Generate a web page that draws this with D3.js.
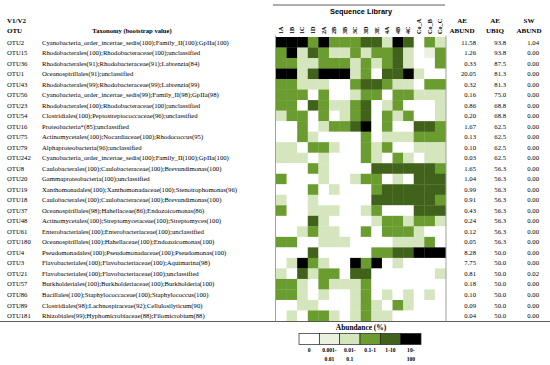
<!doctype html>
<html>
<head>
<meta charset="utf-8">
<title>OTU abundance heatmap</title>
<script src="https://d3js.org/d3.v7.min.js"></script>
<style>
  body { margin: 0; background: #fff; }
  text { font-family: "Liberation Serif", "Times New Roman", serif; fill: #000; }
  .hdr { font-weight: bold; font-size: 7px; }
  .row { font-size: 6.7px; }
  .sans { font-family: "Liberation Sans", Arial, sans-serif; }
</style>
</head>
<body>
<script>
// sample libraries (columns)
const samples = ["1A","1B","1C","1D","2A","2B","3B","3C","3D","3E","4A","4B","4C","Co_A","Co_B","Co_C"];

const otus = ["OTU2","OTU15","OTU36","OTU1","OTU43","OTU56","OTU23","OTU54","OTU16","OTU75","OTU79","OTU242",
  "OTU8","OTU20","OTU19","OTU18","OTU37","OTU48","OTU61","OTU180","OTU4","OTU3","OTU21","OTU57","OTU86","OTU89","OTU181"];

const taxonomy = [
  "Cyanobacteria_order_incertae_sedis(100);Family_II(100);GpIIa(100)",
  "Rhodobacterales(100);Rhodobacteraceae(100);unclassified",
  "Rhodobacterales(91);Rhodobacteraceae(91);Labrenzia(84)",
  "Oceanospirillales(91);unclassified",
  "Rhodobacterales(99);Rhodobacteraceae(99);Labrenzia(99)",
  "Cyanobacteria_order_incertae_sedis(99);Family_II(98);GpIIa(98)",
  "Rhodobacterales(100);Rhodobacteraceae(100);unclassified",
  "Clostridiales(100);Peptostreptococcaceae(96);unclassified",
  "Proteobacteria*(85);unclassified",
  "Actinomycetales(100);Nocardiaceae(100);Rhodococcus(95)",
  "Alphaproteobacteria(96);unclassified",
  "Cyanobacteria_order_incertae_sedis(100);Family_II(100);GpIIa(100)",
  "Caulobacterales(100);Caulobacteraceae(100);Brevundimonas(100)",
  "Gammaproteobacteria(100);unclassified",
  "Xanthomonadales(100);Xanthomonadaceae(100);Stenotrophomonas(96)",
  "Caulobacterales(100);Caulobacteraceae(100);Brevundimonas(100)",
  "Oceanospirillales(98);Hahellaceae(86);Endozoicomonas(86)",
  "Actinomycetales(100);Streptomycetaceae(100);Streptomyces(100)",
  "Enterobacteriales(100);Enterobacteriaceae(100);unclassified",
  "Oceanospirillales(100);Hahellaceae(100);Endozoicomonas(100)",
  "Pseudomonadales(100);Pseudomonadaceae(100);Pseudomonas(100)",
  "Flavobacteriales(100);Flavobacteriaceae(100);Aquimarina(98)",
  "Flavobacteriales(100);Flavobacteriaceae(100);unclassified",
  "Burkholderiales(100);Burkholderiaceae(100);Burkholderia(100)",
  "Bacillales(100);Staphylococcaceae(100);Staphylococcus(100)",
  "Clostridiales(98);Lachnospiraceae(92);Cellulosilyticum(90)",
  "Rhizobiales(99);Hyphomicrobiaceae(88);Filomicrobium(88)"
];

const aeAbund = ["11.58","1.26","0.33","20.05","0.32","0.16","0.86","0.20","1.67","0.13","0.10","0.03",
  "1.65","1.04","0.99","0.91","0.43","0.24","0.12","0.05","8.28","7.75","0.81","0.18","0.10","0.09","0.04"];
const aeUbiq = ["93.8","93.8","87.5","81.3","81.3","75.0","68.8","68.8","62.5","62.5","62.5","62.5",
  "56.3","56.3","56.3","56.3","56.3","56.3","56.3","56.3","50.0","50.0","50.0","50.0","50.0","50.0","50.0"];
const swAbund = ["1.04","0.00","0.00","0.00","0.00","0.00","0.00","0.00","0.00","0.00","0.00","0.00",
  "0.00","0.00","0.00","0.00","0.00","0.00","0.00","0.00","0.00","0.00","0.02","0.00","0.00","0.00","0.00"];

// abundance class per cell (0 = 0, 1 = 0.001-0.01, 2 = 0.01-0.1, 3 = 0.1-1, 4 = 1-10, 5 = 10-100)
const levels = [
  "5553533344254032",
  "3524322323342013",
  "3322333232342003",
  "5524555230445200",
  "3322200344322033",
  "3330300233033222",
  "3304322340230002",
  "2330302340323002",
  "0030233450300443",
  "0032000030222333",
  "2203320032300222",
  "2220200032032022",
  "0003200004444443",
  "3000200233020444",
  "0003020003444444",
  "2002000004444443",
  "3002220023000444",
  "0004200002332332",
  "0023220030333200",
  "3300222000022230",
  "0004000003344555",
  "0253200535020000",
  "2042330440000002",
  "3320322230000000",
  "3320200230202020",
  "0022000232032000",
  "0203320232200000"
];

const legendLabels = [["0"], ["0.001-","0.01"], ["0.01-","0.1"], ["0.1-1"], ["1-10"], ["10-","100"]];
const palette = ["#ffffff", "#eaf2df", "#d5e5bd", "#6b9c30", "#41621a", "#000000"];

const W = 550, H = 365;
const svg = d3.select("body").append("svg").attr("width", W).attr("height", H);

const x = d3.scaleBand().domain(samples).range([276, 445.5]);
const y = d3.scaleBand().domain(otus).range([37, 321]);
const color = d3.scaleOrdinal().domain(d3.range(6)).range(palette);

// cells
const cells = [];
otus.forEach((o, i) => {
  samples.forEach((s, j) => cells.push({ otu: o, sample: s, v: +levels[i][j] }));
});
svg.append("g").selectAll("rect")
  .data(cells)
  .enter()
  .append("rect")
  .attr("x", d => x(d.sample))
  .attr("y", d => y(d.otu))
  .attr("width", x.bandwidth() + 0.3)
  .attr("height", y.bandwidth() + 0.3)
  .attr("fill", d => color(d.v));

// rules
const rule = (x1, y1, x2, y2, c) => svg.append("line")
  .attr("x1", x1).attr("y1", y1).attr("x2", x2).attr("y2", y2)
  .attr("stroke", c || "#333").attr("stroke-width", 0.8);
rule(273, 5, 445, 5);
rule(0, 321.5, 550, 321.5);
rule(275.5, 35.5, 275.5, 321.5, "#888");
rule(446, 35.5, 446, 321.5, "#888");

// header
svg.append("text").attr("class", "hdr sans").attr("x", 361).attr("y", 14)
  .attr("text-anchor", "middle").style("font-size", "7.4px").text("Sequence Library");
svg.append("text").attr("class", "hdr").attr("x", 7).attr("y", 23).text("V1/V2");
svg.append("text").attr("class", "hdr").attr("x", 7).attr("y", 33).text("OTU");
svg.append("text").attr("class", "hdr").attr("x", 132).attr("y", 33)
  .attr("text-anchor", "middle").style("font-size", "6.6px").text("Taxonomy (bootstrap value)");

svg.append("g").selectAll("text")
  .data(samples)
  .enter()
  .append("text")
  .attr("class", "hdr")
  .style("font-size", "6.2px")
  .attr("transform", d => "translate(" + (x(d) + x.bandwidth() / 2 + 2) + ",34) rotate(-90)")
  .text(d => d);

const colHdr = [[462, "AE", "ABUND"], [495, "AE", "UBIQ"], [529, "SW", "ABUND"]];
colHdr.forEach(h => {
  svg.append("text").attr("class", "hdr").attr("x", h[0]).attr("y", 23).attr("text-anchor", "middle").text(h[1]);
  svg.append("text").attr("class", "hdr").attr("x", h[0]).attr("y", 33).attr("text-anchor", "middle").text(h[2]);
});

// rows of text
const rowY = d => y(d) + y.bandwidth() / 2 + 2.3;
const addCol = (vals, xp, anchor) => svg.append("g").selectAll("text")
  .data(otus)
  .enter()
  .append("text")
  .attr("class", "row")
  .attr("x", xp)
  .attr("y", d => rowY(d))
  .attr("text-anchor", anchor)
  .text((d, i) => vals[i]);
addCol(otus, 7, "start");
addCol(taxonomy, 42, "start");
addCol(aeAbund, 476, "end");
addCol(aeUbiq, 506, "end");
addCol(swAbund, 539, "end");

// legend
svg.append("text").attr("class", "hdr").attr("x", 361).attr("y", 330)
  .attr("text-anchor", "middle").style("font-size", "7.4px").text("Abundance (%)");
const lx = d3.scaleBand().domain(d3.range(6)).range([299, 421]);
svg.append("g").selectAll("rect")
  .data(d3.range(6))
  .enter()
  .append("rect")
  .attr("x", d => lx(d))
  .attr("y", 333.5)
  .attr("width", lx.bandwidth())
  .attr("height", 11)
  .attr("fill", d => color(d))
  .attr("stroke", "#222")
  .attr("stroke-width", 0.7);
legendLabels.forEach((lab, i) => {
  lab.forEach((t, k) => {
    svg.append("text").attr("class", "hdr").style("font-size", "5.6px")
      .attr("x", lx(i) + lx.bandwidth() / 2).attr("y", 352 + k * 9)
      .attr("text-anchor", "middle").text(t);
  });
});
</script>
</body>
</html>
